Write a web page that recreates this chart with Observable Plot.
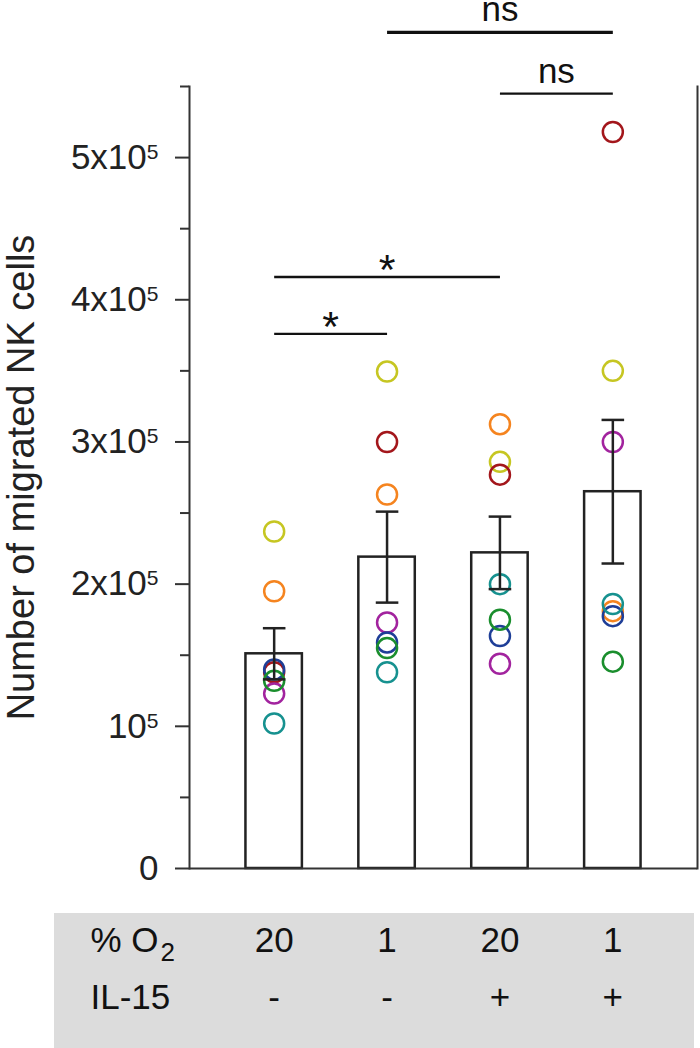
<!DOCTYPE html>
<html>
<head>
<meta charset="utf-8">
<script src="https://cdn.jsdelivr.net/npm/d3@7"></script>
<script src="https://cdn.jsdelivr.net/npm/@observablehq/plot@0.6"></script>
<style>
  body { margin: 0; background: #fff; }
  #wrap { position: relative; width: 700px; height: 1048px; font-family: "Liberation Sans", Arial, Helvetica, sans-serif; }
  #table-bg { position: absolute; left: 54px; top: 913px; width: 640px; height: 135px; background: #dcdcdc; }
  #wrap svg { position: absolute; left: 0; top: 0; }
</style>
</head>
<body>
<div id="wrap"><div id="table-bg"></div></div>
<script>
// ---- data ----
const conditions = ["20% O2, IL-15 -", "1% O2, IL-15 -", "20% O2, IL-15 +", "1% O2, IL-15 +"];
const o2Labels = ["20", "1", "20", "1"];
const il15Labels = ["-", "-", "+", "+"];
const donors = ["Donor 1", "Donor 2", "Donor 3", "Donor 4", "Donor 5", "Donor 6", "Donor 7"];
const donorColors = ["#c6c622", "#f5841f", "#a3161b", "#a2239e", "#1e3e97", "#1a8e2d", "#16918f"];

// migrated NK cells per donor, one value per condition
const donor1 = [237000, 349500, 286000, 350000];
const donor2 = [195000, 263000, 312500, 181000];
const donor3 = [138000, 300000, 277000, 518000];
const donor4 = [123000, 173000, 144000, 300000];
const donor5 = [140000, 159000, 163500, 177500];
const donor6 = [132000, 155000, 175000, 145500];
const donor7 = [102000, 138000, 200000, 186000];
const donorValues = [donor1, donor2, donor3, donor4, donor5, donor6, donor7];

const barMeans = [151000, 219000, 222000, 265000];
const barSEM = [18000, 32000, 25500, 50500];

const yTicks = [0, 100000, 200000, 300000, 400000, 500000];
const yMinorTicks = [50000, 150000, 250000, 350000, 450000, 550000];

const bracketFrom = [1, 1, 3, 2];
const bracketTo = [2, 3, 4, 4];
const bracketY = [376000, 416000, 545000, 588000];
const bracketText = ["*", "*", "ns", "ns"];

// ---- build tables for the marks ----
const positions = conditions.map((_, i) => i + 1);
const barHalf = 0.25, capHalf = 0.1;
const bars = conditions.map((c, i) => ({pos: i + 1, mean: barMeans[i], sem: barSEM[i]}));
const points = [];
donorValues.forEach((vals, d) => vals.forEach((v, i) => points.push({pos: i + 1, value: v, donor: donors[d]})));
const brackets = bracketText.map((t, i) => ({from: bracketFrom[i], to: bracketTo[i], y: bracketY[i], text: t, top: i === 3}));
const starBrackets = brackets.filter(d => d.text === "*");
const nsBrackets = brackets.filter(d => d.text !== "*");

const ink = "#222";
const fontSize = 35;

const chart = Plot.plot({
  width: 700,
  height: 1048,
  marginLeft: 189,
  marginRight: 3,
  marginTop: 86,
  marginBottom: 180,
  style: {background: "transparent", fontFamily: "'Liberation Sans', Arial, Helvetica, sans-serif", color: ink},
  x: {domain: [0.25, 4.75], axis: null},
  y: {domain: [0, 550000], axis: null},
  color: {domain: donors, range: donorColors},
  marks: [
    // bars
    Plot.rectY(bars, {x1: d => d.pos - barHalf, x2: d => d.pos + barHalf, y1: 0, y2: "mean", fill: "white", stroke: ink, strokeWidth: 2.5}),
    // individual donors
    Plot.dot(points, {x: "pos", y: "value", stroke: "donor", r: 10, strokeWidth: 2.5, fill: "none"}),
    // error bars (SEM)
    Plot.ruleX(bars, {x: "pos", y1: d => d.mean - d.sem, y2: d => d.mean + d.sem, stroke: ink, strokeWidth: 2.5}),
    Plot.link(bars, {x1: d => d.pos - capHalf, x2: d => d.pos + capHalf, y1: d => d.mean + d.sem, y2: d => d.mean + d.sem, stroke: ink, strokeWidth: 2.5}),
    Plot.link(bars, {x1: d => d.pos - capHalf, x2: d => d.pos + capHalf, y1: d => d.mean - d.sem, y2: d => d.mean - d.sem, stroke: ink, strokeWidth: 2.5}),
    // frame lines
    Plot.frame({anchor: "left", stroke: "#333", strokeWidth: 2}),
    Plot.frame({anchor: "right", stroke: "#333", strokeWidth: 2}),
    Plot.ruleY([0], {stroke: "#333", strokeWidth: 2}),
    // y axis ticks
    Plot.axisY(yTicks, {tickSize: 14, tickPadding: 17, strokeWidth: 2, stroke: "#333", fontSize, fill: ink,
      tickFormat: d => d === 0 ? "0" : (d === 100000 ? "10" : `${d / 100000}x10`), label: null}),
    Plot.axisY(yMinorTicks, {tickSize: 9, strokeWidth: 2, stroke: "#333", tickFormat: () => "", label: null}),
    // y label
    Plot.text(["Number of migrated NK cells"], {frameAnchor: "left", textAnchor: "middle", dx: -168, rotate: -90, fontSize: 38, fill: ink}),
    // significance brackets
    Plot.link(brackets, {x1: "from", x2: "to", y1: "y", y2: "y", stroke: "#111", strokeWidth: d => d.top ? 3.2 : 2.4}),
    Plot.text(nsBrackets, {x: d => (d.from + d.to) / 2, y: "y", text: "text", lineAnchor: "bottom", dy: -11, fontSize, fill: "#111"}),
    Plot.text(starBrackets, {x: d => (d.from + d.to) / 2, y: "y", text: "text", lineAnchor: "bottom", dy: 7, fontSize: 43, fill: "#111"}),
    // condition table
    Plot.text(positions, {x: d => d, text: d => o2Labels[d - 1], frameAnchor: "bottom", dy: 83, fontSize, fill: "#111"}),
    Plot.text(positions, {x: d => d, text: d => il15Labels[d - 1], frameAnchor: "bottom", dy: 140, fontSize, fill: "#111"}),
    Plot.text(["% O2"], {frameAnchor: "bottom-left", textAnchor: "start", dx: -99, dy: 83, fontSize, fill: "#111"}),
    Plot.text(["IL-15"], {frameAnchor: "bottom-left", textAnchor: "start", dx: -99, dy: 140, fontSize, fill: "#111"})
  ]
});

// superscript exponents on the y tick labels
d3.select(chart).selectAll('g[aria-label="y-axis tick label"] text').each(function() {
  const t = d3.select(this);
  const s = t.text();
  if (s !== "" && s !== "0") {
    t.append("tspan").attr("dy", "-10px").attr("font-size", "21px").text("5");
  }
});
// subscript in "% O2"
d3.select(chart).selectAll("text").each(function() {
  const t = d3.select(this);
  if (t.text() === "% O2") {
    t.text("% O");
    t.append("tspan").attr("dy", "9px").attr("font-size", "26px").attr("dx", "2px").text("2");
  }
});

document.getElementById("wrap").appendChild(chart);
</script>
</body>
</html>
